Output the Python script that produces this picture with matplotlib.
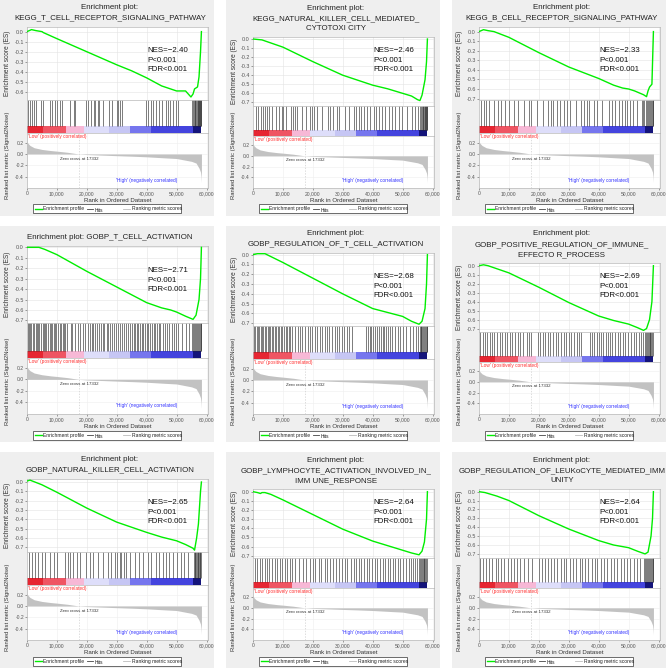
import matplotlib
matplotlib.use("Agg")
import matplotlib.pyplot as plt
from matplotlib.patches import Rectangle
from matplotlib.lines import Line2D
from matplotlib.ticker import FuncFormatter

plt.rcParams['font.family'] = ['Liberation Sans', 'DejaVu Sans']
plt.rcParams['axes.unicode_minus'] = False

# ---------------- data ----------------
titles = [
    ["Enrichment plot:", "KEGG_T_CELL_RECEPTOR_SIGNALING_PATHWAY"],
    ["Enrichment plot:", "KEGG_NATURAL_KILLER_CELL_MEDIATED_", "CYTOTOXI CITY"],
    ["Enrichment plot:", "KEGG_B_CELL_RECEPTOR_SIGNALING_PATHWAY"],
    ["Enrichment plot: GOBP_T_CELL_ACTIVATION"],
    ["Enrichment plot:", "GOBP_REGULATION_OF_T_CELL_ACTIVATION"],
    ["Enrichment plot:", "GOBP_POSITIVE_REGULATION_OF_IMMUNE_", "EFFECTO R_PROCESS"],
    ["Enrichment plot:", "GOBP_NATURAL_KILLER_CELL_ACTIVATION"],
    ["Enrichment plot:", "GOBP_LYMPHOCYTE_ACTIVATION_INVOLVED_IN_", "IMM UNE_RESPONSE"],
    ["Enrichment plot:", "GOBP_REGULATION_OF_LEUKoCYTE_MEDIATED_IMM", "UNITY"],
]
nes_values = ["-2.40", "-2.46", "-2.33", "-2.71", "-2.68", "-2.69", "-2.65", "-2.64", "-2.64"]
p_text = "P<0.001"
fdr_text = "FDR<0.001"
legend_labels = ['Enrichment profile', 'Hits', 'Ranking metric scores']

# running enrichment score: rank (thousands) and ES
es_rank_k = [
    [0, 1.5, 3, 5, 5.5, 10, 20, 30, 35, 40, 45, 48, 50, 53, 54.8, 55.5, 56, 57, 57.5, 58, 58.3],
    [0, 3, 10, 20, 30, 40, 45, 50, 53, 55, 55.8, 56.5, 57.5, 58, 58.3],
    [0, 1.5, 3, 5, 10, 20, 30, 40, 45, 48, 50, 52, 55, 56, 56.5, 57, 57.8, 58.3],
    [0, 4, 6, 10, 20, 30, 40, 45, 48, 50, 53, 55.5, 56.5, 57.5, 58, 58.3],
    [0, 1.5, 4, 6, 10, 20, 30, 40, 45, 50, 53, 55.5, 56.5, 57.5, 58, 58.3],
    [0, 1.5, 3, 10, 20, 30, 40, 45, 50, 53, 55, 56, 57, 57.8, 58.3],
    [0, 1, 5, 10, 20, 30, 40, 45, 50, 53, 55.5, 56, 56.7, 57.3, 58, 58.3],
    [0, 1.5, 2.5, 3, 4, 6, 10, 20, 30, 40, 45, 50, 53, 55.5, 56.5, 57.3, 58, 58.3],
    [0, 2, 5, 6, 10, 20, 30, 40, 45, 50, 53, 55.5, 56.5, 57.5, 58, 58.3],
]
es_scores = [
    [0.0, 0.02, 0.01, 0.0, -0.01, -0.07, -0.20, -0.33, -0.39, -0.46, -0.54, -0.57, -0.59, -0.59, -0.65, -0.62, -0.57, -0.55, -0.45, -0.2, 0.0],
    [0.0, -0.01, -0.09, -0.25, -0.40, -0.51, -0.55, -0.60, -0.63, -0.67, -0.68, -0.62, -0.45, -0.25, 0.0],
    [0.0, 0.02, 0.01, 0.0, -0.06, -0.22, -0.37, -0.49, -0.56, -0.59, -0.60, -0.62, -0.66, -0.68, -0.62, -0.58, -0.55, 0.0],
    [0.0, 0.0, -0.02, -0.07, -0.23, -0.38, -0.53, -0.58, -0.60, -0.62, -0.66, -0.69, -0.65, -0.50, -0.30, 0.0],
    [0.0, 0.01, 0.01, -0.02, -0.08, -0.24, -0.40, -0.55, -0.59, -0.63, -0.68, -0.71, -0.68, -0.55, -0.30, 0.0],
    [0.0, 0.01, 0.0, -0.08, -0.24, -0.41, -0.56, -0.61, -0.65, -0.69, -0.72, -0.70, -0.60, -0.40, 0.0],
    [0.01, 0.02, -0.03, -0.11, -0.28, -0.43, -0.54, -0.59, -0.63, -0.67, -0.71, -0.73, -0.60, -0.45, -0.10, 0.0],
    [0.0, -0.01, -0.02, -0.01, -0.01, -0.03, -0.09, -0.25, -0.41, -0.54, -0.59, -0.64, -0.67, -0.69, -0.65, -0.55, -0.30, 0.0],
    [0.0, -0.01, -0.04, -0.05, -0.10, -0.27, -0.42, -0.55, -0.60, -0.63, -0.67, -0.70, -0.68, -0.50, -0.30, 0.0],
]
es_ylims = [(-0.68, 0.046), (-0.74, 0.022), (-0.715, 0.048), (-0.725, 0.013), (-0.728, 0.017),
            (-0.738, 0.03), (-0.75, 0.032), (-0.725, 0.029), (-0.746, 0.03)]

# hit positions (rank, thousands)
hits_k = [
    [0.44, 0.99, 1.65, 2.2, 2.97, 4.84, 5.5, 7.7, 8.25, 9.35, 9.9, 11.0, 11.66, 14.52, 15.62, 16.17, 19.8, 20.35,
     21.45, 22.44, 22.88, 23.65, 24.09, 25.3, 27.5, 28.27, 29.92, 30.47, 31.02, 31.9, 39.82, 40.37, 41.58, 42.24,
     43.12, 44.0, 45.1, 46.42, 47.08, 47.74, 48.84, 49.72, 50.6, 55.22, 55.5, 55.77, 56.0, 56.32, 56.6, 56.87,
     57.05, 57.2, 57.4, 57.64, 57.8, 57.97, 58.1, 58.2],
    [0.89, 1.78, 2.56, 3.33, 4.0, 4.78, 5.33, 6.22, 7.56, 8.67, 9.56, 10.11, 11.11, 12.56, 13.33, 14.0, 14.78,
     16.44, 17.56, 18.89, 19.56, 20.33, 21.44, 23.11, 25.11, 25.89, 26.67, 28.11, 28.89, 30.67, 32.0, 33.67,
     34.44, 35.33, 36.22, 37.0, 38.11, 39.22, 40.33, 41.11, 42.0, 43.11, 44.22, 45.33, 46.44, 47.56, 48.67,
     49.78, 51.44, 53.11, 54.22, 55.11, 55.9, 56.2, 56.45, 56.7, 56.95, 57.15, 57.35, 57.55, 57.75, 57.9,
     58.05, 58.2],
    [0.77, 1.64, 2.4, 3.5, 5.14, 6.23, 7.32, 8.74, 10.06, 11.7, 13.01, 14.98, 16.61, 17.38, 19.35, 21.53,
     23.17, 23.94, 24.81, 25.91, 27.0, 28.31, 29.4, 30.28, 32.46, 34.1, 35.19, 35.96, 36.83, 38.47, 39.57,
     41.21, 43.39, 44.49, 45.58, 46.67, 47.77, 48.64, 49.4, 50.5, 51.59, 52.68, 54.32, 54.76, 55.2, 55.96,
     56.29, 56.62, 56.95, 57.27, 57.6, 57.8, 58.0, 58.2],
    [0.3, 0.7, 1.1, 1.4, 2.0, 2.4, 2.9, 3.3, 3.8, 4.1, 4.6, 5.2, 5.6, 6.1, 6.5, 7.0, 7.6, 8.0, 8.3, 8.9, 9.4,
     9.8, 10.4, 10.9, 11.3, 11.9, 12.4, 12.8, 13.5, 14.6, 15.2, 16.1, 17.0, 17.6, 18.8, 19.5, 20.3, 20.9,
     21.6, 22.1, 22.8, 23.3, 24.1, 24.6, 25.3, 25.9, 26.6, 27.2, 27.9, 28.3, 29.1, 29.6, 30.4, 31.0, 31.7,
     32.5, 33.0, 33.8, 34.4, 35.0, 35.6, 36.1, 36.7, 37.2, 37.8, 38.3, 38.9, 39.4, 40.1, 40.6, 41.2, 41.8,
     42.3, 42.9, 43.5, 44.1, 44.6, 45.3, 46.0, 46.7, 47.5, 48.3, 49.1, 49.8, 50.6, 51.9, 53.0, 54.2, 55.2,
     55.6, 55.9, 56.2, 56.5, 56.8, 57.1, 57.4, 57.7, 58.0, 58.2],
    [0.4, 0.8, 1.3, 1.7, 2.1, 2.6, 3.0, 3.5, 3.9, 4.4, 4.9, 5.3, 5.8, 6.3, 6.7, 7.2, 7.8, 8.2, 8.7, 9.3, 9.8,
     10.3, 10.9, 11.4, 11.9, 12.5, 13.2, 14.0, 14.9, 15.6, 16.5, 17.4, 18.3, 19.0, 19.8, 20.7, 21.5, 22.3,
     23.0, 23.9, 24.8, 25.5, 26.4, 27.3, 28.0, 28.9, 29.7, 30.5, 31.4, 32.2, 33.0, 37.8, 38.4, 39.0, 39.6,
     40.2, 40.8, 41.4, 42.0, 42.7, 43.3, 43.9, 44.6, 45.2, 45.9, 46.6, 47.4, 48.3, 49.2, 50.1, 51.1, 52.4,
     53.6, 54.6, 55.3, 55.7, 56.0, 56.3, 56.6, 56.9, 57.2, 57.5, 57.8, 58.0, 58.2],
    [0.5, 1.2, 2.0, 2.7, 3.6, 4.3, 5.1, 6.0, 6.9, 7.7, 8.6, 9.4, 10.3, 11.0, 12.0, 12.9, 13.7, 14.8, 15.9,
     16.8, 17.5, 19.6, 20.4, 21.3, 22.1, 23.0, 23.8, 24.9, 25.6, 26.5, 27.4, 28.3, 29.1, 30.0, 30.9, 31.8,
     32.6, 33.5, 34.2, 37.0, 37.8, 38.5, 39.3, 40.1, 40.8, 41.6, 42.4, 43.1, 43.9, 44.6, 45.4, 46.3, 47.1,
     48.0, 48.9, 49.8, 50.8, 51.7, 52.6, 53.4, 54.2, 54.9, 55.4, 55.8, 56.1, 56.4, 56.7, 57.0, 57.3, 57.6,
     57.9, 58.1],
    [0.55, 1.66, 2.77, 3.54, 4.98, 6.09, 7.53, 8.86, 9.96, 12.73, 13.84, 14.39, 15.5, 16.6, 17.71, 19.7,
     21.03, 22.14, 23.8, 25.46, 27.12, 28.23, 29.34, 30.11, 30.99, 31.55, 32.32, 33.21, 34.54, 35.98, 37.42,
     38.75, 40.41, 41.51, 43.17, 44.28, 45.39, 46.49, 47.6, 48.71, 50.04, 51.48, 52.58, 53.69, 55.7, 56.0,
     56.25, 56.5, 56.75, 57.0, 57.25, 57.5, 57.75, 57.95, 58.15],
    [0.6, 1.4, 2.3, 3.0, 3.9, 4.7, 5.5, 6.4, 7.2, 8.0, 8.9, 9.7, 10.6, 11.4, 12.3, 13.1, 14.2, 15.3, 16.6,
     17.8, 18.9, 19.9, 20.8, 21.9, 22.8, 23.9, 24.8, 25.8, 26.9, 27.8, 28.7, 29.7, 30.6, 31.5, 32.6, 33.6,
     34.5, 35.3, 36.2, 37.1, 38.0, 38.9, 39.8, 40.7, 41.5, 42.4, 43.3, 44.1, 45.0, 45.9, 46.7, 47.6, 48.5,
     49.3, 50.2, 51.1, 52.0, 52.8, 53.6, 54.3, 54.9, 55.4, 55.8, 56.1, 56.4, 56.7, 57.0, 57.3, 57.6, 57.9, 58.1],
    [0.5, 1.3, 2.4, 3.4, 4.5, 5.6, 6.3, 7.4, 8.5, 9.6, 10.8, 11.6, 12.7, 13.8, 15.2, 16.5, 17.6, 19.9, 21.0,
     22.1, 23.2, 24.0, 25.1, 26.2, 27.3, 28.4, 29.2, 30.3, 31.4, 32.5, 33.6, 34.4, 35.5, 36.6, 37.7, 38.8,
     39.6, 40.7, 41.8, 42.9, 44.0, 45.1, 46.2, 47.3, 48.4, 49.5, 50.6, 51.7, 52.8, 53.9, 55.0, 55.6, 55.9,
     56.2, 56.5, 56.8, 57.1, 57.4, 57.7, 58.0, 58.2],
]

# ranked list metric (shared by all panels)
metric_rank_k = [0, 0.3, 1, 2.4, 5, 8, 10, 13.5, 17.332, 20, 25, 30, 35.5, 40, 46.5, 50, 55, 56.5, 57.5, 58.0, 58.2, 58.3, 58.31]
metric_vals = [0.23, 0.19, 0.15, 0.11, 0.08, 0.06, 0.05, 0.03, 0.0, -0.01, -0.02, -0.03, -0.04, -0.05, -0.07, -0.08,
               -0.13, -0.16, -0.25, -0.32, -0.40, -0.50, 0.0]
zero_cross = 17332

# colour bar of the ranked list
band_edges_k = [0, 5.2, 12.9, 19.0, 27.3, 34.5, 41.6, 55.4, 58.3]
band_colors = ['#e62632', '#ef5563', '#f7b8d6', '#dedefa', '#c6c6f4', '#7676ee', '#4444de', '#14147a']

x_ticks = [0, 10000, 20000, 30000, 40000, 50000, 60000]

# ---------------- layout ----------------
W, H = 669, 670
fig = plt.figure(figsize=(W / 100, H / 100), dpi=100)
fig.patch.set_facecolor('white')


def box(x0, y0, x1, y1):
    return [x0 / W, 1 - y1 / H, (x1 - x0) / W, (y1 - y0) / H]


def fx(x):
    return x / W


def fy(y):
    return 1 - y / H


col_x = [0, 226, 452]
row_y = [0, 226, 452]
PW, PH = 214, 216
XMAX = 60500
spine_c = '#b8b8b8'
tick_c = '#555555'
legend_colors = ['#00ee00', '#444444', '#bdbdbd']

for i in range(9):
    px = col_x[i % 3]
    py = row_y[i // 3]
    fig.patches.append(Rectangle((fx(px), fy(py + PH)), PW / W, PH / H, transform=fig.transFigure,
                                 facecolor='#efefef', edgecolor='none', zorder=-5))
    nl = len(titles[i])
    es_top = {1: 20, 2: 27, 3: 37}[nl]
    es_bot = {1: 97, 2: 100, 3: 106}[nl]
    hit_bot = {1: 132, 2: 133, 3: 136}[nl]
    met_bot = 188
    L, R = px + 27, px + 208

    # title
    tys = {1: [11.5], 2: [7.5, 17.5], 3: [8, 18.5, 29]}[nl]
    for line, ty in zip(titles[i], tys):
        fig.text(fx(px + 110), fy(py + ty), line, ha='center', va='center', fontsize=5.7, color='#222222')

    # ES panel
    ax = fig.add_axes(box(L, py + es_top, R, py + es_bot))
    ax.set_facecolor('white')
    ax.plot([r * 1000 for r in es_rank_k[i]], es_scores[i], color='#00ee00', lw=1.0, zorder=3)
    ax.set_xlim(0, XMAX)
    lo, hi = es_ylims[i]
    ax.set_ylim(lo, hi)
    yt = [round(-0.1 * k, 1) for k in range(0, 9) if -0.1 * k >= lo]
    ax.set_yticks(yt)
    ax.set_yticklabels(['0.0' if t == 0 else '%.1f' % t for t in yt])
    ax.set_xticks(x_ticks)
    ax.set_xticklabels([])
    ax.tick_params(length=1.2, width=0.4, labelsize=3.9, colors=tick_c, pad=1)
    ax.grid(True, color='#e4e4e4', lw=0.4)
    ax.set_axisbelow(True)
    for s in ax.spines.values():
        s.set_color(spine_c)
        s.set_linewidth(0.5)
    ymid = py + 60 if nl != 1 else py + 54
    for k, t in enumerate(["NES=" + nes_values[i].replace('-', '\u2212'), p_text, fdr_text]):
        fig.text(fx(px + 147), fy(ymid + (k - 1) * 9.5), t, ha='left', va='center', fontsize=5.7,
                 color='#111111')
    fig.text(fx(px + 8), fy(py + (es_top + es_bot) / 2), 'Enrichment score (ES)', rotation=90,
             ha='center', va='center', fontsize=4.7, color='#333333')

    # hits panel
    hx = fig.add_axes(box(L, py + es_bot, R, py + hit_bot))
    hx.set_facecolor('white')
    hx.set_xlim(0, XMAX)
    hx.set_ylim(0, 1)
    hx.vlines([h * 1000 for h in hits_k[i]], 0.2, 1, color='#262626', lw=0.42)
    for a, b, c in zip(band_edges_k[:-1], band_edges_k[1:], band_colors):
        hx.add_patch(Rectangle((a * 1000, 0), (b - a) * 1000, 0.2, facecolor=c, edgecolor='none'))
    hx.set_xticks([])
    hx.set_yticks([])
    for s in hx.spines.values():
        s.set_color(spine_c)
        s.set_linewidth(0.5)

    # ranked list metric panel
    mx = fig.add_axes(box(L, py + hit_bot, R, py + met_bot))
    mx.set_facecolor('white')
    mx.fill_between([r * 1000 for r in metric_rank_k], 0, metric_vals, color='#c2c2c2', lw=0)
    mx.axvline(zero_cross, color='#cfcfcf', lw=0.5, ls=(0, (2, 2)))
    mx.set_xlim(0, XMAX)
    mx.set_ylim(-0.6, 0.37)
    mx.set_yticks([0.2, 0.0, -0.2, -0.4])
    mx.set_yticklabels(['0.2', '0.0', '-0.2', '-0.4'])
    mx.set_xticks(x_ticks)
    mx.xaxis.set_major_formatter(FuncFormatter(lambda v, p: '{:,}'.format(int(v))))
    mx.tick_params(length=1.2, width=0.4, labelsize=3.6, colors=tick_c, pad=1)
    mx.grid(True, color='#eeeeee', lw=0.4)
    mx.set_axisbelow(True)
    for s in mx.spines.values():
        s.set_color(spine_c)
        s.set_linewidth(0.5)
    mx.text(0.005, 0.985, "'Low' (positively correlated)", transform=mx.transAxes, ha='left', va='top',
            fontsize=3.4, color='#ff3030')
    mx.text(zero_cross, -0.085, 'Zero cross at 17332', ha='center', va='center', fontsize=3.2, color='#333333')
    mx.text(40100, -0.46, "'High' (negatively correlated)", ha='center', va='center', fontsize=3.4,
            color='#3030ff')
    mx.set_xlabel('Rank in Ordered Dataset', fontsize=4.4, color='#333333', labelpad=1.5)
    fig.text(fx(px + 8), fy(py + 155), 'Ranked list metric (Signal2Noise)', rotation=90,
             ha='center', va='center', fontsize=4.2, color='#333333')

    # legend (drawn by hand to match the Java-style layout)
    ly = py + 209
    fig.patches.append(Rectangle((fx(px + 33), fy(py + 213.5)), 148 / W, 9 / H, transform=fig.transFigure,
                                 facecolor='white', edgecolor='#333333', lw=0.5, zorder=2))
    for (x0, x1, tx), lab, c, lw, dy in zip([(34.5, 42, 43), (86.5, 93, 94.5), (123, 130, 131.5)],
                                            legend_labels, legend_colors, [1.0, 0.6, 0.6], [1.5, 2.5, 1.5]):
        fig.add_artist(Line2D([fx(px + x0), fx(px + x1)], [fy(ly), fy(ly)], transform=fig.transFigure,
                              color=c, lw=lw, zorder=3))
        fig.text(fx(px + tx), fy(ly + dy), lab, ha='left', va='baseline', fontsize=3.6, color='#222222',
                 zorder=3)

fig.savefig('out.png', dpi=100)
